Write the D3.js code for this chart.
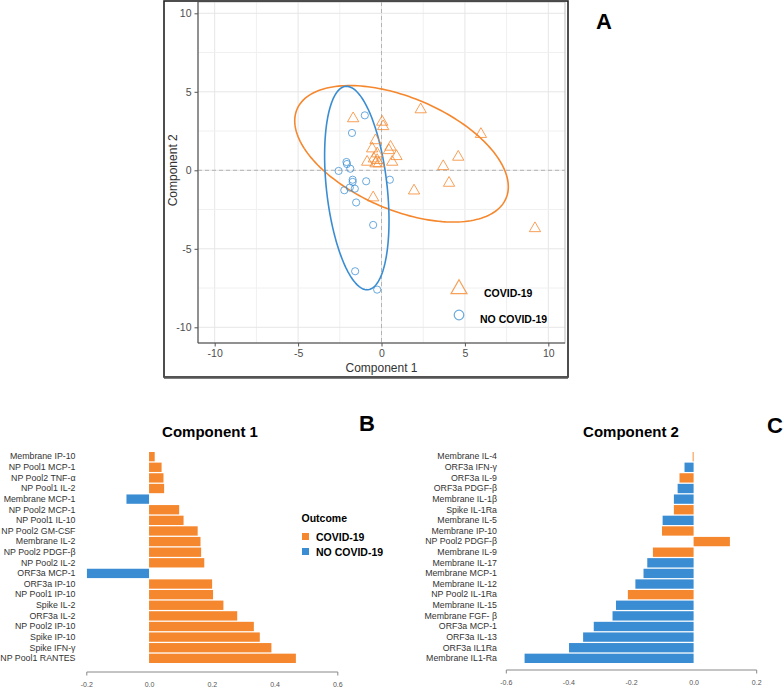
<!DOCTYPE html>
<html>
<head>
<meta charset="utf-8">
<script src="https://cdn.jsdelivr.net/npm/d3@7"></script>
<style>
body{margin:0;background:#fff}
svg{display:block;font-family:Arial,"Liberation Sans",sans-serif}
</style>
</head>
<body>
<svg id="fig" width="784" height="690"></svg>
<script>
var svg = d3.select("#fig")

// ---- data, panel A (scores on component 1 / component 2)
var covidPts = [[-1.7,3.3],[2.35,3.87],[0.04,3.08],[0.1,2.8],[5.96,2.3],[-0.36,1.9],[0.54,1.49],
    [-0.56,1.38],[0.44,1.27],[-0.26,1.06],[0.9,0.89],[4.6,0.85],[-0.46,0.74],[-0.26,0.64],[3.7,0.25],
    [-0.86,0.53],[0.64,0.53],[-0.36,0.43],[-0.16,0.43],[4.05,-0.81],[1.95,-1.3],[-0.5,-1.74],[9.2,-3.7]]
var noCovidPts = [[-1.0,3.5],[-1.77,2.38],[-2.1,0.53],[-2.07,0.4],[-1.87,0.1],[-2.57,-0.04],[-1.73,-0.6],
    [-1.73,-0.74],[-0.92,-0.7],[0.5,-0.6],[-1.9,-1.1],[-1.6,-1.17],[-2.23,-1.27],[-1.52,-2.05],
    [-0.5,-3.48],[-1.58,-6.43],[-0.26,-7.6]]
var outcomes = ["COVID-19", "NO COVID-19"]
var outcomeColors = {"COVID-19": "#f5882f", "NO COVID-19": "#3a8dd2"}
// confidence ellipses: centre, semi axes, rotation (deg)
var ellipseCenter = [[1.2, 1.05], [-1.48, -1.13]]
var ellipseAxes = [[6.88, 3.54], [6.51, 1.82]]
var ellipseAngle = [-25.3, 95.9]
var ticksA = [-10, -5, 0, 5, 10]
var gridA = [-10, -7.5, -5, -2.5, 0, 2.5, 5, 7.5, 10]

// ---- data, panel B (loadings component 1)
var comp1Labels = ["Membrane IP-10","NP Pool1 MCP-1","NP Pool2 TNF-\u03b1","NP Pool1 IL-2","Membrane MCP-1",
    "NP Pool2 MCP-1","NP Pool1 IL-10","NP Pool2 GM-CSF","Membrane IL-2","NP Pool2 PDGF-\u03b2","NP Pool2 IL-2",
    "ORF3a MCP-1","ORF3a IP-10","NP Pool1 IP-10","Spike IL-2","ORF3a IL-2","NP Pool2 IP-10","Spike IP-10",
    "Spike IFN-\u03b3","NP Pool1 RANTES"]
var comp1Values = [0.018,0.040,0.046,0.048,-0.072,0.096,0.110,0.155,0.164,0.166,0.176,-0.198,0.201,0.204,
    0.237,0.281,0.334,0.353,0.390,0.468]
var comp1Groups = [0,0,0,0,1,0,0,0,0,0,0,1,0,0,0,0,0,0,0,0]

// ---- data, panel C (loadings component 2)
var comp2Labels = ["Membrane IL-4","ORF3a IFN-\u03b3","ORF3a IL-9","ORF3a PDGF-\u03b2","Membrane IL-1\u03b2",
    "Spike IL-1Ra","Membrane IL-5","Membrane IP-10","NP Pool2 PDGF-\u03b2","Membrane IL-9","Membrane IL-17",
    "Membrane  MCP-1","Membrane IL-12","NP Pool2 IL-1Ra","Membrane IL-15","Membrane FGF- \u03b2","ORF3a MCP-1",
    "ORF3a IL-13","ORF3a  IL1Ra","Membrane IL1-Ra"]
var comp2Values = [-0.003,-0.029,-0.045,-0.051,-0.063,-0.063,-0.099,-0.101,0.116,-0.130,-0.148,-0.160,
    -0.186,-0.210,-0.248,-0.259,-0.319,-0.353,-0.398,-0.540]
var comp2Groups = [0,1,0,1,1,0,1,0,0,0,1,1,1,0,1,1,1,1,1,1]
var loadTicks = {b: [-0.2, 0, 0.2, 0.4, 0.6], c: [-0.6, -0.4, -0.2, 0, 0.2]}

// =============== Panel A
var pA = {left: 198, right: 565, top: 2, bottom: 343}
var xA = d3.scaleLinear().domain([-11, 11]).range([pA.left, pA.right])
var yA = d3.scaleLinear().domain([-11, 11]).range([pA.bottom, -2.4])
var gA = svg.append("g").attr("id", "panelA")

svg.append("clipPath").attr("id", "clipA").append("rect")
    .attr("x", pA.left).attr("y", pA.top)
    .attr("width", pA.right - pA.left).attr("height", pA.bottom - pA.top)

var plotA = gA.append("g").attr("clip-path", "url(#clipA)")
plotA.selectAll(".vgrid").data(gridA).enter().append("line")
    .attr("x1", d => xA(d)).attr("x2", d => xA(d))
    .attr("y1", pA.top).attr("y2", pA.bottom)
    .style("stroke", d => d % 5 == 0 ? "#e6e6e6" : "#f0f0f0").style("stroke-width", 1)
plotA.selectAll(".hgrid").data(gridA).enter().append("line")
    .attr("x1", pA.left).attr("x2", pA.right)
    .attr("y1", d => yA(d)).attr("y2", d => yA(d))
    .style("stroke", d => d % 5 == 0 ? "#e6e6e6" : "#f0f0f0").style("stroke-width", 1)
// zero reference lines
plotA.append("line").attr("x1", xA(0)).attr("x2", xA(0)).attr("y1", pA.top).attr("y2", pA.bottom)
    .style("stroke", "#b3b3b3").style("stroke-dasharray", "4,3")
plotA.append("line").attr("x1", pA.left).attr("x2", pA.right).attr("y1", yA(0)).attr("y2", yA(0))
    .style("stroke", "#b3b3b3").style("stroke-dasharray", "4,3")

var ellipseLine = d3.line().x(p => xA(p[0])).y(p => yA(p[1])).curve(d3.curveLinearClosed)
function ellipsePoints(i) {
    var c = ellipseCenter[i], ax = ellipseAxes[i], th = ellipseAngle[i] * Math.PI / 180
    return d3.range(0, 2 * Math.PI, Math.PI / 90).map(function(t) {
        var u = ax[0] * Math.cos(t), v = ax[1] * Math.sin(t)
        return [c[0] + u * Math.cos(th) - v * Math.sin(th), c[1] + u * Math.sin(th) + v * Math.cos(th)]
    })
}
plotA.selectAll(".ellipse").data([0, 1]).enter().append("path")
    .attr("d", i => ellipseLine(ellipsePoints(i)))
    .style("fill", "none").style("stroke", i => outcomeColors[outcomes[i]]).style("stroke-width", 1.6)

plotA.selectAll(".tri").data(covidPts).enter().append("path")
    .attr("transform", d => "translate(" + xA(d[0]) + "," + yA(d[1]) + ")")
    .attr("d", d3.symbol(d3.symbolTriangle, 55))
    .style("fill", "none").style("stroke", outcomeColors["COVID-19"]).style("stroke-opacity", 0.8).style("stroke-width", 1)
plotA.selectAll(".circ").data(noCovidPts).enter().append("circle")
    .attr("cx", d => xA(d[0])).attr("cy", d => yA(d[1])).attr("r", 3.6)
    .style("fill", "none").style("stroke", outcomeColors["NO COVID-19"]).style("stroke-opacity", 0.75).style("stroke-width", 1)

gA.append("rect").attr("x", pA.left).attr("y", pA.top)
    .attr("width", pA.right - pA.left).attr("height", pA.bottom - pA.top)
    .style("fill", "none").style("stroke", "#bdbdbd")
gA.append("line").attr("x1", pA.left).attr("x2", pA.left).attr("y1", pA.top).attr("y2", pA.bottom).style("stroke", "#444")
gA.append("line").attr("x1", pA.left).attr("x2", pA.right).attr("y1", pA.bottom).attr("y2", pA.bottom).style("stroke", "#444")

var axA1 = gA.append("g").attr("transform", "translate(0," + pA.bottom + ")")
    .call(d3.axisBottom(xA).tickValues(ticksA).tickSize(3.5).tickPadding(3).tickFormat(d => d))
var axA2 = gA.append("g").attr("transform", "translate(" + pA.left + ",0)")
    .call(d3.axisLeft(yA).tickValues(ticksA).tickSize(3.5).tickPadding(3).tickFormat(d => d))
gA.selectAll(".domain").remove()
gA.selectAll(".tick line").style("stroke", "#555")
gA.selectAll(".tick text").style("fill", "#4d4d4d").style("font-size", "10.5px")

gA.append("text").attr("x", xA(0)).attr("y", 372).attr("text-anchor", "middle")
    .style("font-size", "12px").style("fill", "#333").text("Component 1")
gA.append("text").attr("transform", "translate(176.5," + yA(0) + ") rotate(-90)").attr("text-anchor", "middle")
    .style("font-size", "12px").style("fill", "#333").text("Component 2")

// legend in panel A
var legA = gA.append("g")
legA.append("path").attr("transform", "translate(459,289)")
    .attr("d", d3.symbol(d3.symbolTriangle, 110))
    .style("fill", "none").style("stroke", outcomeColors["COVID-19"]).style("stroke-opacity", 0.8).style("stroke-width", 1.2)
legA.append("circle").attr("cx", 459).attr("cy", 315).attr("r", 4.8)
    .style("fill", "none").style("stroke", outcomeColors["NO COVID-19"]).style("stroke-opacity", 0.75).style("stroke-width", 1.2)
legA.append("text").attr("x", 484).attr("y", 296.5).style("font-weight", "bold").style("font-size", "10.5px").text(outcomes[0])
legA.append("text").attr("x", 480).attr("y", 323).style("font-weight", "bold").style("font-size", "10.5px").text(outcomes[1])

// outer frame
svg.append("rect").attr("x", 164).attr("y", 1).attr("width", 404).attr("height", 376)
    .style("fill", "none").style("stroke", "#222").style("stroke-width", 1.6)
svg.append("line").attr("x1", 164).attr("x2", 568).attr("y1", 377.5).attr("y2", 377.5)
    .style("stroke", "#555").style("stroke-width", 2.5)

svg.append("text").attr("x", 604).attr("y", 29).attr("text-anchor", "middle")
    .style("font-weight", "bold").style("font-size", "22px").text("A")

// =============== Panels B and C
function loadingPanel(labels, values, groups, xDomain, xRange, axisX, axisY, ticks, title, titleX) {
    var g = svg.append("g")
    var x = d3.scaleLinear().domain(xDomain).range(xRange)
    var y = d3.scaleBand().domain(labels).range([452, 663]).paddingInner(0.12)
    g.selectAll(".bar").data(values).enter().append("rect")
        .attr("x", d => x(Math.min(0, d)))
        .attr("width", d => Math.max(0.8, Math.abs(x(d) - x(0))))
        .attr("y", (d, i) => y(labels[i]))
        .attr("height", y.bandwidth())
        .style("fill", (d, i) => outcomeColors[outcomes[groups[i]]])
    g.append("g").attr("transform", "translate(" + axisX + ",0)")
        .call(d3.axisLeft(y).tickSize(0).tickPadding(3))
        .call(a => a.select(".domain").remove())
        .selectAll("text").style("font-size", "8.8px").style("fill", "#333")
    var ax = g.append("g").attr("transform", "translate(0," + axisY + ")")
        .call(d3.axisBottom(x).tickValues(ticks).tickSizeInner(0).tickSizeOuter(4).tickPadding(11)
            .tickFormat(d => d.toFixed(1)))
    ax.select(".domain").style("stroke", "#888")
    ax.selectAll("text").style("font-size", "7px").style("fill", "#555")
    g.append("text").attr("x", titleX).attr("y", 437).attr("text-anchor", "middle")
        .style("font-weight", "bold").style("font-size", "15px").text(title)
    return g
}

loadingPanel(comp1Labels, comp1Values, comp1Groups, [-0.2, 0.6], [86.3, 337.3], 78.5, 671.5,
    loadTicks.b, "Component 1", 210)
loadingPanel(comp2Labels, comp2Values, comp2Groups, [-0.6, 0.2], [505.8, 756.2], 500, 669.5,
    loadTicks.c, "Component 2", 631)

svg.append("text").attr("x", 367).attr("y", 431).attr("text-anchor", "middle")
    .style("font-weight", "bold").style("font-size", "22px").text("B")
svg.append("text").attr("x", 775).attr("y", 433).attr("text-anchor", "middle")
    .style("font-weight", "bold").style("font-size", "22px").text("C")

// outcome legend (panel B)
var legB = svg.append("g")
legB.append("text").attr("x", 301.5).attr("y", 522).style("font-weight", "bold").style("font-size", "10.5px").text("Outcome")
legB.selectAll(".sw").data(outcomes).enter().append("rect")
    .attr("x", 302).attr("y", (d, i) => 533 + i * 15).attr("width", 7).attr("height", 7)
    .style("fill", d => outcomeColors[d])
legB.selectAll(".lab").data(outcomes).enter().append("text")
    .attr("x", 316).attr("y", (d, i) => 540.5 + i * 15)
    .style("font-weight", "bold").style("font-size", "10.5px").text(d => d)
</script>
</body>
</html>
